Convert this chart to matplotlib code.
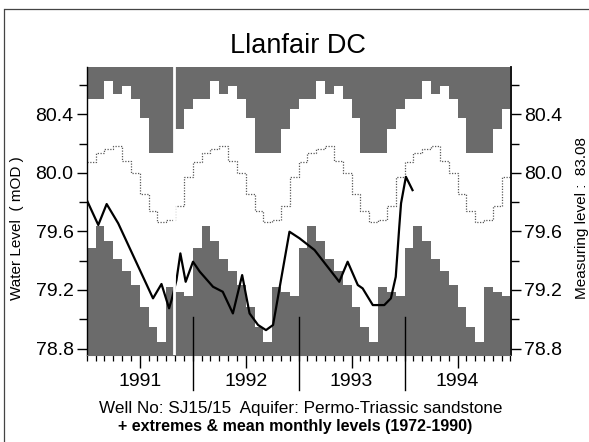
import numpy as np
import matplotlib.pyplot as plt
from matplotlib.lines import Line2D

plt.rcParams['font.family'] = ['Liberation Sans', 'DejaVu Sans']

years = [1991, 1992, 1993, 1994]

# long term monthly statistics 1972-1990 (Jan..Dec), mOD
max_level = [80.505, 80.505, 80.624, 80.539, 80.591, 80.505,
             80.373, 80.135, 80.135, 80.135, 80.300, 80.437]
min_level = [79.489, 79.636, 79.535, 79.413, 79.333, 79.231,
             79.087, 78.946, 78.843, 79.219, 79.185, 79.156]
mean_level = [80.074, 80.135, 80.160, 80.185, 80.080, 80.000,
              79.856, 79.740, 79.665, 79.680, 79.776, 79.970]

# observed levels: months since 1 Jan 1991, mOD
obs_month = [0.0, 1.3, 2.25, 3.56, 7.5, 8.46, 9.32, 9.6, 10.16, 10.6, 11.2,
             12.03, 12.8, 14.3, 15.4, 16.55, 17.6, 18.44, 19.4, 20.3, 21.1,
             22.96, 24.1, 25.8, 28.6, 29.55, 30.7, 31.25, 32.4, 33.7, 34.45,
             35.0, 35.4, 35.6, 36.15, 36.9]
obs_level = [79.814, 79.644, 79.787, 79.655, 79.143, 79.241, 79.075, 79.131,
             79.268, 79.450, 79.256, 79.393, 79.325, 79.222, 79.188, 79.040,
             79.302, 79.040, 78.961, 78.926, 78.961, 79.598, 79.553, 79.473,
             79.256, 79.393, 79.234, 79.211, 79.097, 79.097, 79.143, 79.290,
             79.632, 79.792, 79.973, 79.882]

seam_month = 9.93  # paste seam visible in the scanned figure

y_lo, y_hi = 78.756, 80.723
shade = '#6b6b6b'

fig = plt.figure(figsize=(5.89, 4.42), dpi=100)
ax = fig.add_axes([86.8 / 589, 1 - 355 / 442, (510.5 - 86.8) / 589, (355 - 67) / 442])

n_months = 12 * len(years)
edges = np.arange(n_months + 1)
mx = np.tile(max_level, len(years))
mn = np.tile(min_level, len(years))
me = np.tile(mean_level, len(years))
mx = np.append(mx, mx[-1])
mn = np.append(mn, mn[-1])
me = np.append(me, me[-1])

ax.fill_between(edges, mx, y_hi, step='post', color=shade, lw=0, zorder=1)
ax.fill_between(edges, y_lo, mn, step='post', color=shade, lw=0, zorder=1)
ax.step(edges, me, where='post', color='#5a5a5a', lw=0.9,
        linestyle=(0, (1, 1.2)), zorder=2)

# year boundary marks
for k in range(1, len(years)):
    ax.plot([12 * k, 12 * k], [79.015, 78.52], color='black', lw=1.0,
            clip_on=False, zorder=3)

ax.plot(obs_month, obs_level, color='black', lw=1.6, zorder=4)
ax.axvline(seam_month, color='white', lw=2.0, zorder=5)

ax.set_xlim(0, n_months)
ax.set_ylim(y_lo, y_hi)

ax.set_yticks([78.8, 79.2, 79.6, 80.0, 80.4])
ax.set_yticks([79.0, 79.4, 79.8, 80.2, 80.6], minor=True)
ax.set_yticklabels(['78.8', '79.2', '79.6', '80.0', '80.4'])
ax.tick_params(axis='y', which='both', direction='out', left=True, right=True,
               labelleft=True, labelright=True, labelsize=14, width=1.0)
ax.tick_params(axis='y', which='major', length=7.5, pad=2)
ax.tick_params(axis='y', which='minor', length=5.5)

ax.set_xticks([12 * k + 6 for k in range(len(years))])
ax.set_xticklabels([str(y) for y in years])
ax.set_xticks(np.arange(0, n_months + 1), minor=True)
ax.tick_params(axis='x', which='major', direction='out', length=9.5, pad=3.5,
               labelsize=14, width=1.0)
ax.tick_params(axis='x', which='minor', direction='out', length=4.5, width=0.9)

ax.spines['top'].set_visible(False)
ax.spines['bottom'].set_color(shade)
ax.spines['left'].set_linewidth(1.0)
ax.spines['right'].set_linewidth(1.3)

fig.text(298 / 589, 1 - 53.3 / 442, 'Llanfair DC', ha='center', va='baseline',
         fontsize=19.5)
fig.text(17 / 589, 1 - 228.5 / 442, 'Water Level  ( mOD )', rotation=90,
         ha='center', va='center', fontsize=11)
fig.text(582 / 589, 1 - 218 / 442, 'Measuring level :  83.08', rotation=90,
         ha='center', va='center', fontsize=11)
fig.text(300.5 / 589, 1 - 413 / 442,
         'Well No: SJ15/15  Aquifer: Permo-Triassic sandstone',
         ha='center', va='baseline', fontsize=12.3)
fig.text(295 / 589, 1 - 431.5 / 442,
         '+ extremes & mean monthly levels (1972-1990)',
         ha='center', va='baseline', fontsize=11.5, fontweight='bold')

# page frame lines from the scan
fig.add_artist(Line2D([5 / 589, 1], [1 - 9 / 442, 1 - 9 / 442],
                      transform=fig.transFigure, color='#444444', lw=0.9))
fig.add_artist(Line2D([4 / 589, 4 / 589], [0, 1 - 9 / 442],
                      transform=fig.transFigure, color='#444444', lw=0.9))

fig.savefig('out.png', dpi=100)
